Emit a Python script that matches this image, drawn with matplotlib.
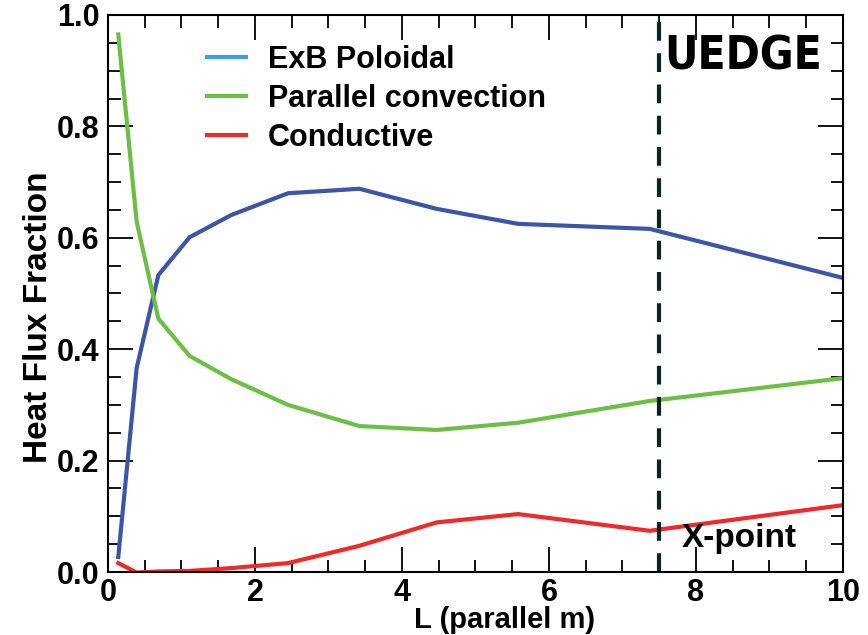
import matplotlib
matplotlib.use("Agg")
import matplotlib.pyplot as plt
from matplotlib.lines import Line2D
from matplotlib.ticker import MultipleLocator, FormatStrFormatter

plt.rcParams["font.family"] = ["Liberation Sans", "DejaVu Sans"]
plt.rcParams["font.weight"] = "bold"

# L (parallel m) sample positions
L_par = [0.14, 0.39, 0.685, 1.11, 1.68, 2.45, 3.42, 4.47, 5.58, 7.37, 10.0]
exb_poloidal = [0.027, 0.366, 0.533, 0.601, 0.641, 0.680, 0.688, 0.652, 0.625, 0.616, 0.528]
par_convection = [0.965, 0.629, 0.455, 0.388, 0.346, 0.300, 0.262, 0.255, 0.268, 0.307, 0.348]
conductive = [0.016, -0.001, 0.001, 0.002, 0.007, 0.016, 0.047, 0.089, 0.104, 0.074, 0.120]
x_point = 7.5

line_colors = ["#3c55a6", "#6cbf45", "#ee2a2a"]
legend_colors = ["#3ea0dc", "#6cbf45", "#ee2a2a"]
labels = ["ExB Poloidal", "Parallel convection", "Conductive"]

fig = plt.figure(figsize=(8.68, 6.35), dpi=100)
ax = fig.add_axes([0.1244, 0.0992, 0.8468, 0.8772])

for ys, c in zip([exb_poloidal, par_convection, conductive], line_colors):
    ax.plot(L_par, ys, color=c, lw=3, solid_joinstyle="miter")

ax.axvline(x_point, color="#0d2222", lw=3, dashes=(4.5, 3))

ax.set_xlim(0, 10)
ax.set_ylim(0, 1.0)
ax.xaxis.set_major_locator(MultipleLocator(2))
ax.xaxis.set_minor_locator(MultipleLocator(0.5))
ax.yaxis.set_major_locator(MultipleLocator(0.2))
ax.yaxis.set_minor_locator(MultipleLocator(0.05))
ax.yaxis.set_major_formatter(FormatStrFormatter("%.1f"))
ax.tick_params(which="both", direction="in", top=True, right=True, width=1.3)
ax.tick_params(which="major", length=18, labelsize=22, pad=6)
ax.tick_params(axis="x", which="major", pad=4)
ax.tick_params(which="minor", length=9)
for s in ax.spines.values():
    s.set_linewidth(1.5)

ax.set_xlabel("L (parallel m)", fontsize=21, fontweight="bold")
ax.xaxis.set_label_coords(0.54, -0.061)
ax.set_ylabel("Heat Flux Fraction", fontsize=24, fontweight="bold")
ax.yaxis.set_label_coords(-0.074, 0.458)

handles = [Line2D([0], [0], color=c, lw=3) for c in legend_colors]
ax.legend(handles, labels, loc="upper left", bbox_to_anchor=(0.097, 0.996), frameon=False,
          prop={"size": 22, "weight": "bold"}, handlelength=1.3, handletextpad=0.7,
          labelspacing=0.3)

ax.text(0.972, 0.925, "UEDGE", transform=ax.transAxes, ha="right", va="center",
        fontsize=33, fontweight="bold", family=["DejaVu Sans"], stretch="condensed")
ax.text(0.78, 0.06, "X-point", transform=ax.transAxes, ha="left", va="center",
        fontsize=24, fontweight="bold")

fig.savefig("out.png", dpi=100)
